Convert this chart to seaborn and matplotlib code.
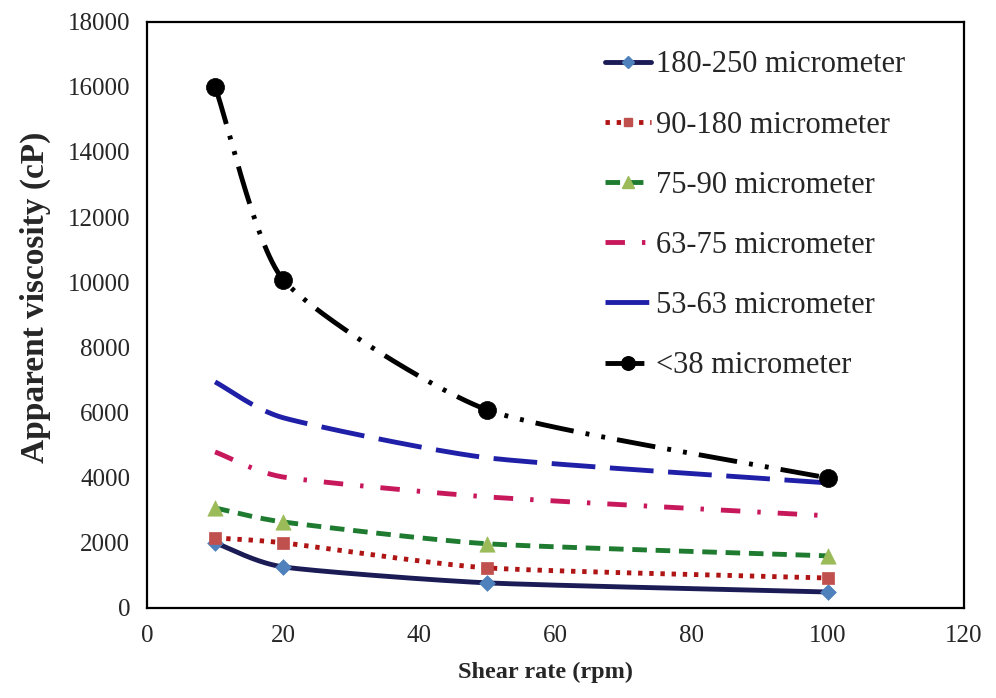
import numpy as np
import pandas as pd
import matplotlib
matplotlib.use("Agg")
import matplotlib.pyplot as plt
import seaborn as sns
from matplotlib.lines import Line2D

# ---- data ----
shear_rate = [10, 20, 50, 100]
series_names = ["180-250 micrometer", "90-180 micrometer", "75-90 micrometer",
                "63-75 micrometer", "53-63 micrometer", "<38 micrometer"]
v_180_250 = [2000, 1260, 770, 490]
v_90_180 = [2150, 2000, 1230, 920]
v_75_90 = [3070, 2640, 1970, 1600]
v_63_75 = [4790, 4020, 3410, 2830]
v_53_63 = [6940, 5840, 4610, 3840]
v_lt38 = [16000, 10080, 6080, 3990]
x_ticks = [0, 20, 40, 60, 80, 100, 120]
y_ticks = list(range(0, 18001, 2000))

values = [v_180_250, v_90_180, v_75_90, v_63_75, v_53_63, v_lt38]

styles = {
    "180-250 micrometer": dict(color="#1B1B55", ls="-", lw=3.5, marker="D", mc="#4F81BD", ms=8),
    "90-180 micrometer": dict(color="#B01515", ls=(0, (0.9, 1.4)), lw=3.5, marker="s", mc="#C0504D", ms=8),
    "75-90 micrometer": dict(color="#1E7B30", ls=(0, (3, 1.8)), lw=3.5, marker="^", mc="#9BBB59", ms=11),
    "63-75 micrometer": dict(color="#C8185C", ls=(0, (4, 3.5, 0.7, 3.5)), lw=3.5, marker=None, mc="#C8185C", ms=0),
    "53-63 micrometer": dict(color="#1F1FA8", ls=(0, (9, 3)), lw=3.5, marker=None, mc="#1F1FA8", ms=0),
    "<38 micrometer": dict(color="#000000", ls=(0, (8, 2.5, 0.8, 2.5, 0.8, 2.5)), lw=3.5, marker="o", mc="#000000", ms=13),
}

df = pd.DataFrame({
    "shear": np.tile(shear_rate, len(series_names)),
    "visc": np.concatenate(values),
    "series": np.repeat(series_names, len(shear_rate)),
})


def smooth(x, y, n=60):
    # Catmull-Rom style smoothing of the drawn line (like Excel "smoothed line")
    x = np.asarray(x, float); y = np.asarray(y, float)
    px = np.concatenate([[2 * x[0] - x[1]], x, [2 * x[-1] - x[-2]]])
    py = np.concatenate([[2 * y[0] - y[1]], y, [2 * y[-1] - y[-2]]])
    xs, ys = [], []
    for i in range(1, len(px) - 2):
        t = np.linspace(0, 1, n)
        p0, p1, p2, p3 = [np.array([px[j], py[j]]) for j in range(i - 1, i + 3)]
        m1 = (p2 - p0) / 2 * 0.6
        m2 = (p3 - p1) / 2 * 0.6
        h00 = 2 * t**3 - 3 * t**2 + 1
        h10 = t**3 - 2 * t**2 + t
        h01 = -2 * t**3 + 3 * t**2
        h11 = t**3 - t**2
        pts = np.outer(h00, p1) + np.outer(h10, m1) + np.outer(h01, p2) + np.outer(h11, m2)
        xs.append(pts[:, 0]); ys.append(pts[:, 1])
    return np.concatenate(xs), np.concatenate(ys)


sns.set_theme(style="white")
plt.rcParams["font.family"] = ["Liberation Serif", "DejaVu Serif"]

fig = plt.figure(figsize=(9.96, 6.98), dpi=100)
ax = fig.add_axes([0.1476, 0.129, 0.82, 0.840])

handles = []
for name in series_names:
    st = styles[name]
    sub = df[df["series"] == name]
    sx, sy = smooth(sub["shear"].values, sub["visc"].values)
    sns.lineplot(x=sx, y=sy, ax=ax, color=st["color"], linestyle=st["ls"], lw=st["lw"],
                 sort=False, estimator=None, legend=False)
    if st["marker"]:
        sns.scatterplot(x=sub["shear"], y=sub["visc"], ax=ax, marker=st["marker"],
                        color=st["mc"], s=st["ms"] ** 2, edgecolor=st["mc"], linewidth=0.5,
                        legend=False, zorder=5)
    handles.append(Line2D([0], [0], color=st["color"], linestyle=st["ls"], lw=st["lw"],
                          marker=st["marker"] if st["marker"] else None,
                          markerfacecolor=st["mc"], markeredgecolor=st["mc"],
                          markersize=st["ms"] * 0.75 if st["marker"] else 0))

ax.set_xlim(0, 120)
ax.set_ylim(0, 18000)
ax.set_xticks(x_ticks)
ax.set_yticks(y_ticks)
ax.tick_params(axis="both", length=0, labelsize=18)
ax.tick_params(axis="x", pad=12)
ax.tick_params(axis="y", pad=12)
for s in ax.spines.values():
    s.set_color("black")
    s.set_linewidth(1.6)
ax.set_xlabel("Shear rate (rpm)", fontsize=17.5, fontweight="bold")
ax.set_ylabel("Apparent viscosity (cP)", fontsize=24, fontweight="bold")
ax.xaxis.set_label_coords(0.488, -0.092)
ax.yaxis.set_label_coords(-0.118, 0.53)

leg = ax.legend(handles, series_names, loc="upper left", bbox_to_anchor=(0.561, 0.951),
                frameon=False, fontsize=22, handlelength=1.5, handletextpad=0.15,
                labelspacing=1.02, borderaxespad=0.0, borderpad=0.0)

fig.savefig("out.png", dpi=100)
